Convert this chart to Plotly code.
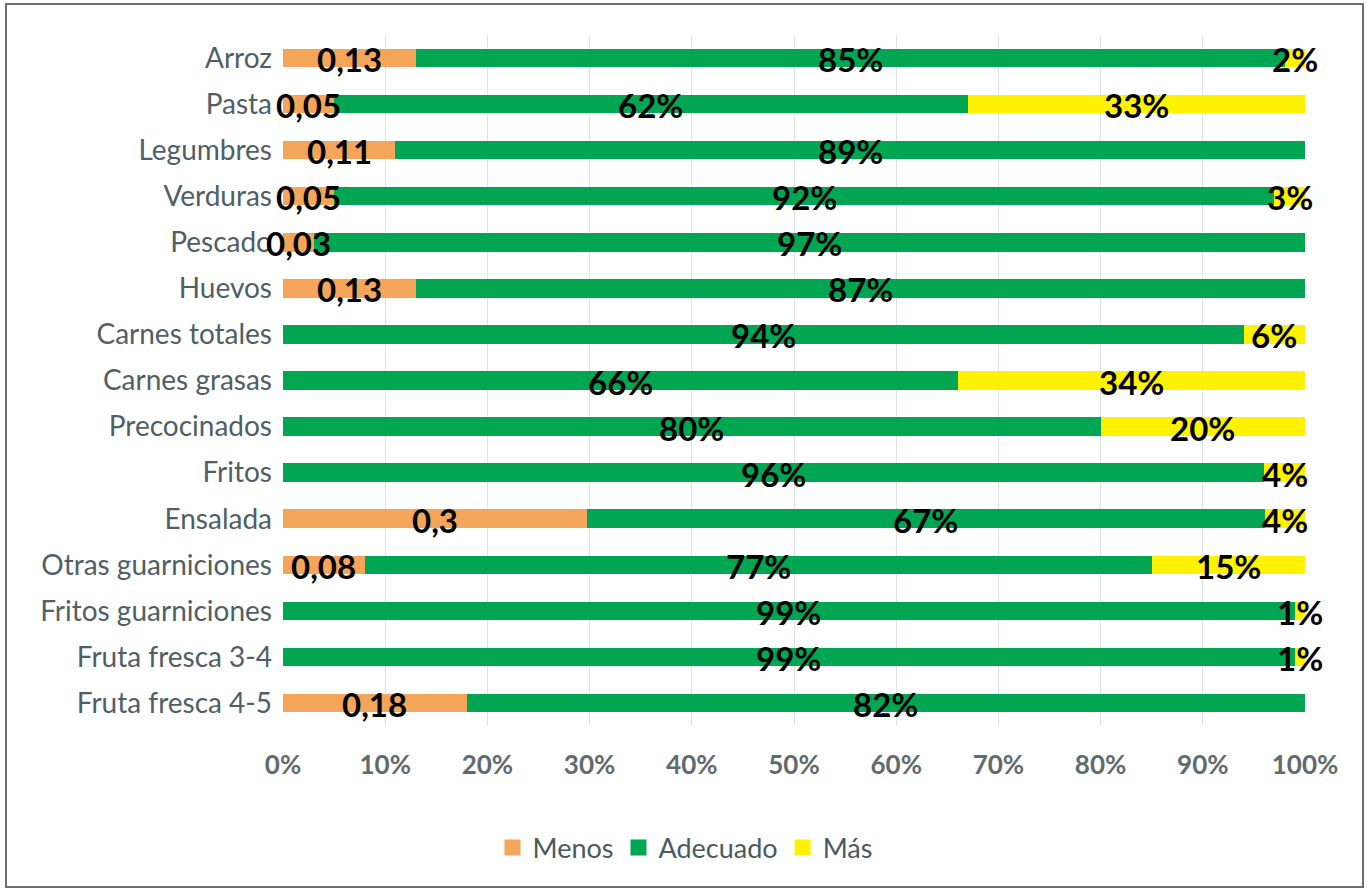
import numpy as np
import plotly.graph_objects as go

categories = ["Arroz", "Pasta", "Legumbres", "Verduras", "Pescado", "Huevos",
              "Carnes totales", "Carnes grasas", "Precocinados", "Fritos",
              "Ensalada", "Otras guarniciones", "Fritos guarniciones",
              "Fruta fresca 3-4", "Fruta fresca 4-5"]
menos = [0.13, 0.05, 0.11, 0.05, 0.03, 0.13, 0, 0, 0, 0, 0.30, 0.08, 0, 0, 0.18]
adecuado = [0.85, 0.62, 0.89, 0.92, 0.97, 0.87, 0.94, 0.66, 0.80, 0.96, 0.67, 0.77, 0.99, 0.99, 0.82]
mas = [0.02, 0.33, 0, 0.03, 0, 0, 0.06, 0.34, 0.20, 0.04, 0.04, 0.15, 0.01, 0.01, 0]
tick_vals = [0, 10, 20, 30, 40, 50, 60, 70, 80, 90, 100]
tick_text = [f"{v}%" for v in tick_vals]

series = [("Menos", menos, "#F5A55A"), ("Adecuado", adecuado, "#00A651"), ("Más", mas, "#FFF200")]

fig = go.Figure()
for name, vals, col in series:
    fig.add_trace(go.Bar(y=categories, x=vals, name=name, orientation="h",
                         marker=dict(color=col, line=dict(width=0)),
                         showlegend=False, hoverinfo="x+y+name"))

# label positions (normalized like a 100% stacked chart)
M = np.array([menos, adecuado, mas])
tot = M.sum(axis=0)
cum = np.cumsum(M, axis=0)
centers = (cum - M / 2) / tot * 100
for i, (name, vals, col) in enumerate(series):
    for j, v in enumerate(vals):
        if v <= 0:
            continue
        if name == "Menos":
            t = ("%g" % v).replace(".", ",")
        else:
            t = f"{round(v * 100)}%"
        fig.add_annotation(x=centers[i, j], y=categories[j], text=t, showarrow=False,
                           xanchor="center", yanchor="middle", yshift=-1,
                           font=dict(family="Lato", size=33, color="#000000", weight="bold"))

# legend entries (square markers)
for name, vals, col in series:
    fig.add_trace(go.Scatter(x=[None], y=[None], mode="markers", name=name,
                             marker=dict(symbol="square", size=18, color=col)))

W, H = 1370, 893
L, R, T, B = 283, 1370 - 1305, 35, 893 - 726
pw, ph = W - L - R, H - T - B


def px2x(sx):
    return (sx - L) / pw


def px2y(sy):
    return (H - B - sy) / ph


fig.add_shape(type="rect", xref="paper", yref="paper",
              x0=px2x(6), x1=px2x(1363), y0=px2y(887), y1=px2y(4),
              line=dict(color="#6E6E6E", width=2), fillcolor="rgba(0,0,0,0)", layer="below")

fig.update_layout(
    width=W, height=H,
    margin=dict(l=L, r=R, t=T, b=B, autoexpand=False),
    barmode="stack", barnorm="percent", bargap=0.6,
    plot_bgcolor="white", paper_bgcolor="white",
    font=dict(family="Lato", color="#595959"),
    legend=dict(orientation="h", x=px2x(685), xanchor="center",
                y=px2y(848), yanchor="middle",
                font=dict(size=27, color="#4A5A5E"), traceorder="normal",
                itemwidth=30),
    xaxis=dict(range=[0, 100], tickvals=tick_vals, ticktext=tick_text,
               showgrid=True, gridcolor="#DCE3E8", gridwidth=1, zeroline=False,
               showline=False, ticks="", ticklabelstandoff=21,
               tickfont=dict(size=26, color="#5F6B6D", weight="bold")),
    yaxis=dict(range=[len(categories) - 0.5, -0.5], showgrid=False, showline=False, ticks="",
               ticklabelstandoff=10,
               tickfont=dict(size=28, color="#4F6064")),
)

fig.write_html("out.html", config={"displayModeBar": False},
               post_script="document.body.style.margin='0px';")
